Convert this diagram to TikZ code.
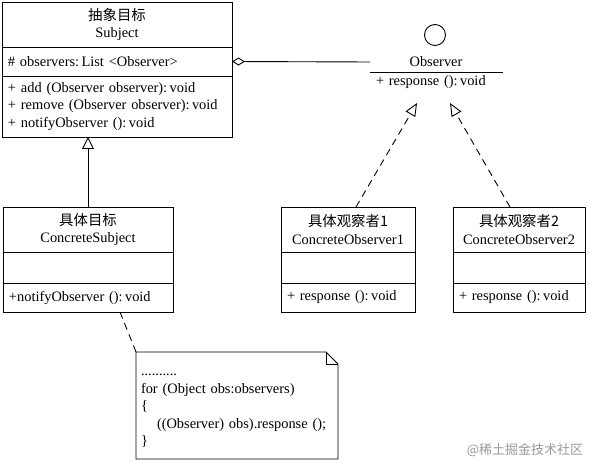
\documentclass[tikz,border=0pt]{standalone}
\usepackage{fontspec}
\setmainfont{Liberation Serif}
\newfontfamily\cjk{Noto Sans CJK SC}
\usetikzlibrary{arrows.meta,positioning}

\begin{document}
\begin{tikzpicture}[x=1pt, y=-1pt,
       line width=0.9pt, black, text=black,
       every node/.style={font=\fontsize{14.4}{17.5}\selectfont},
       classname/.style 2 args = {rectangle, draw, minimum width=#1, minimum height=#2,
                                  inner sep=0pt, outer sep=0pt, align=center},
       classpart/.style 2 args = {rectangle, draw, text width=#1, minimum height=#2,
                                  inner xsep=6pt, inner ysep=0pt, outer sep=0pt, align=left},
       realize/.style = {dash pattern=on 7pt off 5pt, -{Triangle[open,length=13pt,width=11pt]}},
       inherit/.style = {-{Triangle[open,length=12pt,width=12pt]}},
       aggregate/.style = {-{Diamond[open,length=13pt,width=8pt]}}]
	\useasboundingbox (0,0) rectangle (590,462);

	%% Abstract subject
	\node [classname={230pt}{45pt}] (subj) at (117,24.5) {{\cjk 抽象目标}\\Subject};
	\node [classpart={218pt}{29pt},below = 0pt of subj] (subjattr) {\# observers:\,List <Observer>};
	\node [classpart={218pt}{61pt},below = 0pt of subjattr] (subjops)
	      {+ add (Observer observer):\,void\\+ remove (Observer observer):\,void\\+ notifyObserver ():\,void};

	%% Concrete subject
	\node [classname={170pt}{45pt}] (csubj) at (88,229.5) {{\cjk 具体目标}\\ConcreteSubject};
	\node [classpart={158pt}{31pt},below = 0pt of csubj] (csubjattr) {};
	\node [classpart={158pt}{29pt},below = 0pt of csubjattr] (csubjops) {+notifyObserver ():\,void};

	%% Concrete observers
	\node [classname={134pt}{45pt},right = 108pt of csubj] (cobs1) {{\cjk 具体观察者1}\\ConcreteObserver1};
	\node [classpart={122pt}{31pt},below = 0pt of cobs1] (cobs1attr) {};
	\node [classpart={122pt}{29pt},below = 0pt of cobs1attr] (cobs1ops) {+ response ():\,void};

	\node [classname={132pt}{45pt},right = 38pt of cobs1] (cobs2) {{\cjk 具体观察者2}\\ConcreteObserver2};
	\node [classpart={120pt}{31pt},below = 0pt of cobs2] (cobs2attr) {};
	\node [classpart={120pt}{29pt},below = 0pt of cobs2attr] (cobs2ops) {+ response ():\,void};

	%% Observer interface
	\node [circle,draw,minimum size=21pt,inner sep=0pt] (lolly) at (435,35) {};
	\node [inner sep=0pt] (obs) at (436,62) {Observer};
	\node [classpart={121pt}{20pt},draw=none,anchor=north] (obsops) at (436.5,72) {+ response ():\,void};
	\draw (obsops.north west) -- (obsops.north east);
	\coordinate (obsend) at (obsops.north west |- obs.center);
	\coordinate (real1) at (417,103);
	\coordinate (real2) at (450,103);

	%% Note
	\node [text width=192pt,minimum height=107pt,inner xsep=5pt,inner ysep=0pt,outer sep=0pt,
	       align=left,anchor=north west] (note) at (136,352)
	      {\strut..........\\for (Object obs:observers)\\\{\\\hspace*{16pt}((Observer) obs).response ();\\\}};
	\draw (note.north west) -- ([xshift=-12pt]note.north east) -- ([yshift=-12pt]note.north east)
	      -- (note.south east) -- (note.south west) -- cycle;
	\draw ([xshift=-12pt]note.north east) |- ([yshift=-12pt]note.north east);

	%% Watermark
	\node [anchor=east,text=black!40,font=\cjk\fontsize{13}{15}\selectfont] (mark) at (587,450) {@稀土掘金技术社区};

	%% Paths
	\draw [aggregate] (obsend) -- (subjattr.east);
	\draw [inherit] (csubj.north) -- (subjops.south -| csubj.north);
	\draw [realize] ([xshift=8pt]cobs1.north) -- (real1);
	\draw [realize] ([xshift=-9pt]cobs2.north) -- (real2);
	\draw [dash pattern=on 7pt off 5pt] ([xshift=32pt]csubjops.south) -- (note.north west);
\end{tikzpicture}
\end{document}
